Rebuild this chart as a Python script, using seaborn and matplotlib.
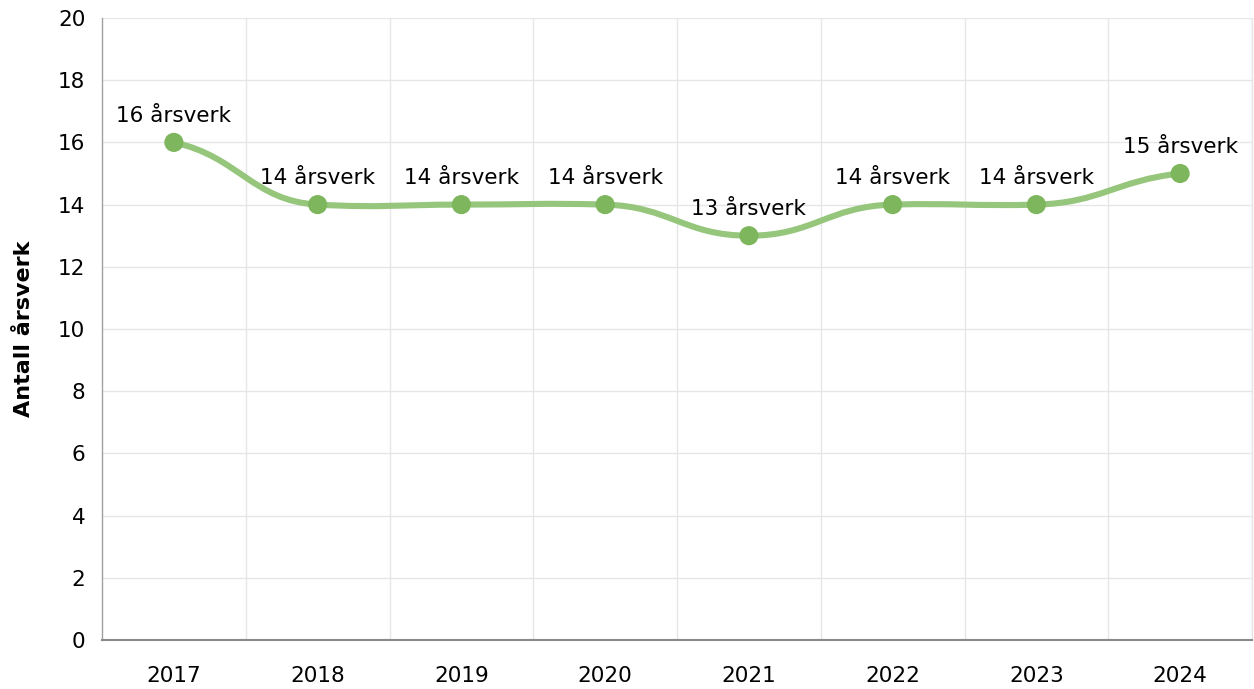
import numpy as np
import pandas as pd
import seaborn as sns
import matplotlib
matplotlib.use("Agg")
import matplotlib.pyplot as plt
from matplotlib.path import Path
from matplotlib.patches import PathPatch

# values
years = ['2017', '2018', '2019', '2020', '2021', '2022', '2023', '2024']
arsverk = [16, 14, 14, 14, 13, 14, 14, 15]
y_ticks = [0, 2, 4, 6, 8, 10, 12, 14, 16, 18, 20]

df = pd.DataFrame({'pos': range(len(years)), 'year': years, 'value': arsverk})

sns.set_style('white')
plt.rcParams['font.family'] = ['DejaVu Sans']

fig = plt.figure(figsize=(12.54, 6.89), dpi=100)
ax = fig.add_axes([102 / 1254, 49 / 689, 1150 / 1254, 622 / 689])


# smooth curve through the points: one cubic bezier per segment,
# control points pushed out horizontally, soft tangents
def spline_path(xs, ys, reach=0.45, tension=0.25, end_tension=0.5):
    n = len(xs)
    slopes = []
    for i in range(n):
        a = max(i - 1, 0)
        b = min(i + 1, n - 1)
        t = end_tension if i in (0, n - 1) else tension
        slopes.append(t * (ys[b] - ys[a]) / (xs[b] - xs[a]))
    verts = [(xs[0], ys[0])]
    codes = [Path.MOVETO]
    for i in range(1, n):
        d = (xs[i] - xs[i - 1]) * reach
        verts += [(xs[i - 1] + d, ys[i - 1] + slopes[i - 1] * d),
                  (xs[i] - d, ys[i] - slopes[i] * d),
                  (xs[i], ys[i])]
        codes += [Path.CURVE4] * 3
    return Path(verts, codes)


path = spline_path(list(df['pos'].astype(float)), list(df['value'].astype(float)))
ax.add_patch(PathPatch(path, facecolor='none', edgecolor='#95c67c', lw=4.4,
                       capstyle='round', joinstyle='round', zorder=3))

sns.scatterplot(data=df, x='pos', y='value', ax=ax, s=190, color='#7db65c',
                edgecolor='none', zorder=4, legend=False)

for _, r in df.iterrows():
    ax.annotate(f"{r['value']} årsverk", (r['pos'], r['value']), xytext=(0, 19),
                textcoords='offset points', ha='center', va='center',
                fontsize=15.5, color='#000000', zorder=5)

ax.set_xlim(-0.5, len(years) - 0.5)
ax.set_ylim(0, 20)
ax.set_yticks(y_ticks)
ax.set_xticks(df['pos'])
ax.set_xticklabels(years)
ax.set_xticks(np.arange(0.5, len(years), 1), minor=True)

ax.grid(False)
ax.grid(True, axis='y', which='major', color='#e6e6e6', lw=1)
ax.grid(True, axis='x', which='minor', color='#e6e6e6', lw=1)
ax.set_axisbelow(True)

ax.spines['top'].set_visible(False)
ax.spines['right'].set_color('#e6e6e6')
ax.spines['right'].set_linewidth(1)
ax.spines['left'].set_color('#a0a0a0')
ax.spines['bottom'].set_color('#8a8a8a')
ax.spines['left'].set_linewidth(1)
ax.spines['bottom'].set_linewidth(1.5)

ax.tick_params(axis='x', which='major', length=8, width=1, color='#b0b0b0',
               labelsize=15.5, pad=11, labelcolor='#000000')
ax.tick_params(axis='x', which='minor', length=0)
ax.tick_params(axis='y', which='major', length=8, width=1, color='#b0b0b0',
               labelsize=15.5, pad=4, labelcolor='#000000')

ax.set_xlabel('')
ax.set_ylabel('Antall årsverk', fontsize=16, fontweight='bold', labelpad=17,
              color='#000000')

fig.savefig('out.png', dpi=100)
